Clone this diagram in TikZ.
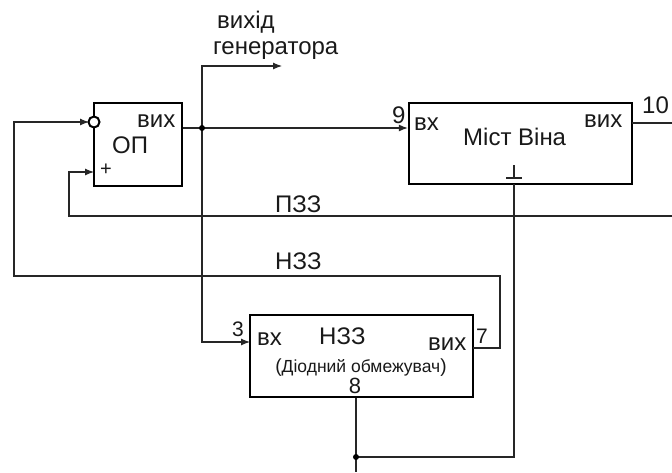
\documentclass[tikz,border=0pt]{standalone}
\usepackage{fontspec}
\setmainfont{Liberation Sans}
\usetikzlibrary{arrows.meta}

\tikzset{
  block/.style={rectangle, draw, line width=2.4pt, fill=white, inner sep=0pt},
  wire/.style={line width=1.1pt, draw=black!85},
  arr/.style={wire, -{Latex[length=9pt,width=7pt]}},
  lbl/.style={inner sep=0pt, anchor=base west, text=black!90, font=\fontsize{24}{28}\selectfont},
  pin/.style={inner sep=0pt, anchor=base west, text=black!90, font=\fontsize{21}{25}\selectfont},
  small/.style={inner sep=0pt, anchor=base, text=black!90, font=\fontsize{17.5}{21}\selectfont},
  dot/.style={circle, fill, inner sep=0pt, minimum size=6pt},
}
\newcommand{\bigpar}[1]{{\fontsize{19}{23}\selectfont #1}}

\begin{document}
\begin{tikzpicture}[x=1pt, y=-1pt]
    \useasboundingbox (0,0) rectangle (672,472);

    % Draw nodes
    \node[block, minimum width=88pt, minimum height=83pt] (op) at (138,144.5) {};
    \node[block, minimum width=223pt, minimum height=81pt] (wien) at (520.5,143.5) {};
    \node[block, minimum width=223pt, minimum height=82pt] (nzz) at (361.5,356) {};

    % Pins
    \coordinate (jn) at (202,128);
    \coordinate (gen) at (282,66);
    \coordinate (nzzin) at (250,342);
    \coordinate (nzzout) at (473,348);
    \coordinate (nzc) at (500,276);
    \coordinate (nzl) at (14,276);
    \coordinate (pzr) at (672,216);
    \coordinate (pzl) at (69,216);
    \coordinate (opplus) at (94,172);
    \coordinate (wout) at (632,123);
    \coordinate (wr) at (672,123);
    \coordinate (wgnd) at (514,184);
    \coordinate (gj) at (356,457);
    \coordinate (bot) at (356,472);

    % Draw connections
    \draw[wire] (op.east |- jn) -- (jn);
    \draw[arr] (jn) -- (jn -| wien.west);
    \draw[arr] (jn) |- (gen);
    \draw[arr] (jn) |- (nzzin);
    \draw[wire] (wout) -- (wr);
    \draw[arr] (pzr) -- (pzl) |- (opplus);
    \draw[arr] (nzzout) -| (nzc) -- (nzl) |- (89,122);
    \draw[wire] (wgnd) |- (gj);
    \draw[wire] (gj |- nzz.south) -- (bot);
    \node[dot] (jndot) at (jn) {};
    \node[dot] (gjdot) at (gj) {};
    \node[circle, draw, line width=2pt, fill=white, minimum size=11pt, inner sep=0pt] (inv) at (94,122) {};

    % Ground sign
    \draw[wire] (514,165) -- (514,178) (506,178) -- (522,178);

    % Labels
    \node[lbl] (gen1) at (217,28) {вихід};
    \node[lbl] (gen2) at (213,54) {генератора};
    \node[lbl] (opname) at (112,153) {ОП};
    \node[lbl] (opvyh) at (137,127) {вих};
    \node[inner sep=0pt, text=black!90, font=\fontsize{20}{24}\selectfont] (plus) at (106,170) {+};
    \node[lbl] (w9) at (392,123) {9};
    \node[lbl] (wvx) at (414,130) {вх};
    \node[lbl] (wname) at (463,145) {Міст Віна};
    \node[lbl] (wvyh) at (584,127) {вих};
    \node[lbl] (w10) at (642,113) {10};
    \node[lbl] (pzz) at (275,212) {ПЗЗ};
    \node[lbl] (nzzl) at (275,269) {НЗЗ};
    \node[pin] (n3) at (232,336) {3};
    \node[lbl] (nvx) at (257,345) {вх};
    \node[lbl] (nname) at (319,344) {НЗЗ};
    \node[lbl] (nvyh) at (428,350) {вих};
    \node[pin] (n7) at (476,343) {7};
    \node[small] (ndiod) at (361,372) {\bigpar{(}Діодний обмежувач\bigpar{)}};
    \node[inner sep=0pt, text=black!90, font=\fontsize{22}{26}\selectfont] (n8) at (355,386) {8};
\end{tikzpicture}
\end{document}
